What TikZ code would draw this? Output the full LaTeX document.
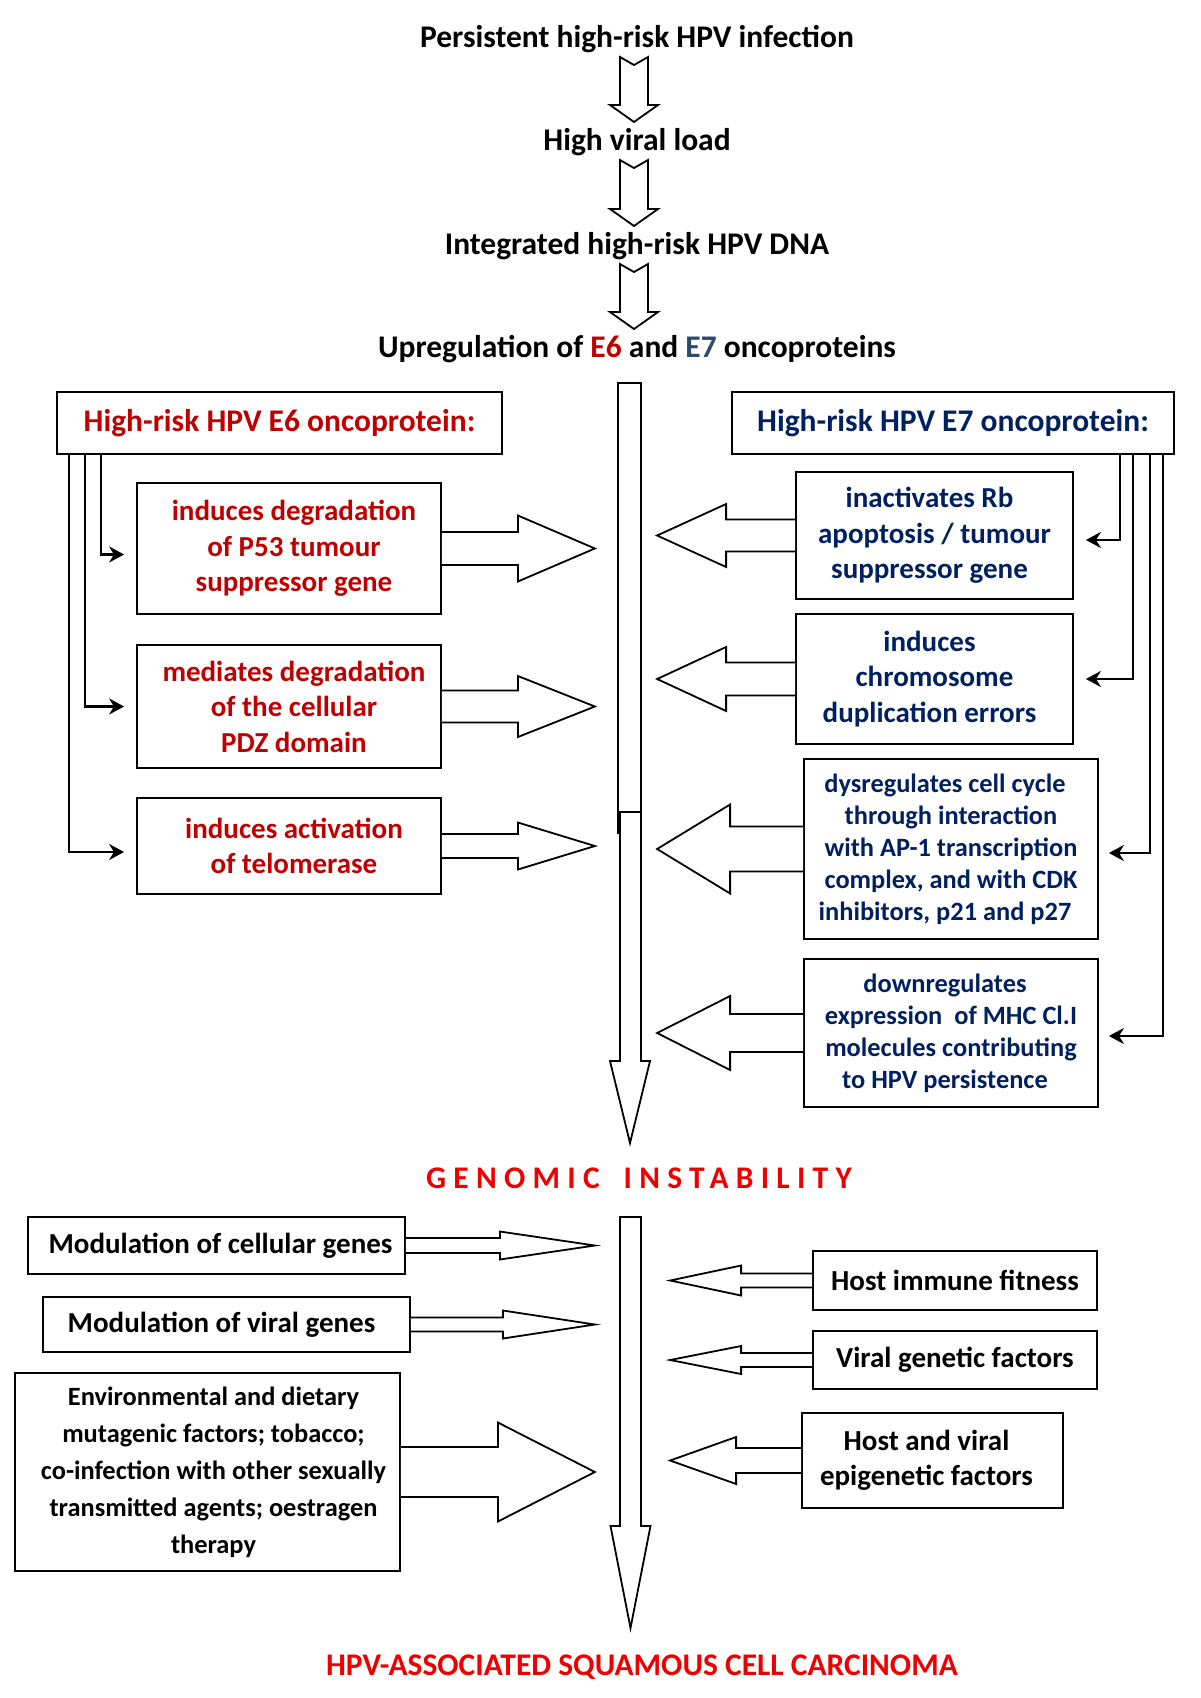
\documentclass[tikz,border=0pt]{standalone}
\usepackage{fontspec}
\setmainfont{Carlito}
\usetikzlibrary{calc,arrows.meta}
\definecolor{esixred}{HTML}{C00000}
\definecolor{esevenblue}{HTML}{002060}
\definecolor{esevengrey}{HTML}{2E4A6E}
\definecolor{alertred}{HTML}{EE0000}

\newcommand\blockarrow[5]{%
  \draw[hollow] (#1) ++(0,#4) -- ++({(#2)-(#3)},0) -- ++(0,{(#5)-(#4)}) -- ++({#3},{-(#5)})
    -- ++({-(#3)},{-(#5)}) -- ++(0,{(#5)-(#4)}) -- ++({(#3)-(#2)},0);}
\newcommand\notchdown[2]{%
  \draw[hollow] let \p1=(#1.base), \p2=(#2.base) in
    (\x1-17pt,\y1-10pt) -- (\x1-3pt,\y1-18pt) -- (\x1+11pt,\y1-10pt) -- (\x1+11pt,\y2+45pt)
    -- (\x1+21pt,\y2+45pt) -- (\x1-3pt,\y2+28pt) -- (\x1-27pt,\y2+45pt) -- (\x1-17pt,\y2+45pt) -- cycle;}

\begin{document}
\begin{tikzpicture}[x=1pt,y=1pt]
  \tikzstyle{title} = [font=\bfseries\fontsize{31.5}{38}\selectfont, inner sep=0pt, anchor=base]
  \tikzstyle{box} = [draw, line width=1.8pt, align=center, inner sep=0pt,
                     font=\bfseries\fontsize{29}{35.5}\selectfont]
  \tikzstyle{header} = [font=\bfseries\fontsize{31.5}{38}\selectfont]
  \tikzstyle{small} = [font=\bfseries\fontsize{26.4}{32}\selectfont]
  \tikzstyle{hollow} = [draw, line width=1.8pt, fill=white, line join=miter]
  \tikzstyle{link} = [line width=2.2pt, -{Stealth[length=15pt,width=16pt]}]

\useasboundingbox (0,0) rectangle (1200,-1698);

\node[title] (inf) at (637,-47) {Persistent high-risk HPV infection};
\node[title] (load) at (637,-150) {High viral load};
\node[title] (dna) at (637,-254) {Integrated high-risk HPV DNA};
\node[title] (up) at (637,-357) {Upregulation of \textcolor{esixred}{E6} and \textcolor{esevengrey}{E7} oncoproteins};
\notchdown{inf}{load}
\notchdown{load}{dna}
\notchdown{dna}{up}

\coordinate (spine) at (629.5,-383);
\draw[hollow] (spine) ++(-11.5,0) rectangle ++(23,-450);
\draw[hollow] (spine) ++(-9.5,-429) -- ++(21,0) -- ++(0,-249) -- ++(9,0) -- ++(-20,-82) -- ++(-20,82) -- ++(10,0) -- cycle;

\node[box, header, text=esixred, minimum width=445pt, minimum height=62pt] (e6) at (279.5,-423) {High-risk HPV E6 oncoprotein:};
\node[box, text=esixred, minimum width=304pt, minimum height=131pt] (p53) at (289,-548.5) {\hspace*{10pt}induces degradation\\\hspace*{10pt}of P53 tumour\\\hspace*{10pt}suppressor gene};
\node[box, text=esixred, minimum width=304pt, minimum height=123pt] (pdz) at (289,-706.5) {\hspace*{10pt}mediates degradation\\\hspace*{10pt}of the cellular\\\hspace*{10pt}PDZ domain};
\node[box, text=esixred, minimum width=304pt, minimum height=96pt] (telo) at (289,-846) {\hspace*{10pt}induces activation\\\hspace*{10pt}of telomerase};

\node[box, header, text=esevenblue, minimum width=442pt, minimum height=62pt] (e7) at (953,-423) {High-risk HPV E7 oncoprotein:};
\node[box, text=esevenblue, minimum width=277pt, minimum height=127pt] (rb) at (934.5,-535.5) {inactivates Rb\hspace*{10pt}\\apoptosis / tumour\hspace*{10pt}\\suppressor gene\hspace*{10pt}};
\node[box, text=esevenblue, minimum width=277pt, minimum height=130pt] (chrom) at (934.5,-679) {induces\hspace*{10pt}\\chromosome\hspace*{10pt}\\duplication errors\hspace*{10pt}};
\node[box, small, text=esevenblue, minimum width=294pt, minimum height=180pt] (cycle) at (951,-849) {dysregulates cell cycle\hspace*{12pt}\\through interaction\hspace*{12pt}\\with AP-1 transcription\hspace*{12pt}\\complex, and with CDK\hspace*{12pt}\\inhibitors, p21 and p27\hspace*{12pt}};
\node[box, small, text=esevenblue, minimum width=294pt, minimum height=148pt] (mhc) at (951,-1033) {downregulates\hspace*{12pt}\\expression~ of MHC Cl.I\hspace*{12pt}\\molecules contributing\hspace*{12pt}\\to HPV persistence\hspace*{12pt}};

\blockarrow{p53.east}{153}{77}{16.5}{33}
\blockarrow{pdz.east}{153}{77}{16}{30.5}
\blockarrow{telo.east}{153}{77}{12}{23.5}
\blockarrow{rb.west}{-138}{-69}{16}{31.5}
\blockarrow{chrom.west}{-138}{-69}{16.5}{32}
\blockarrow{cycle.west}{-146}{-73}{22.5}{44.5}
\blockarrow{mhc.west}{-146}{-73}{19}{37}

\draw[link, shorten >=12pt] ([xshift=45pt]e6.south west) |- ([yshift=-6pt]p53.west);
\draw[link, shorten >=12pt] ([xshift=29pt]e6.south west) |- (pdz.west);
\draw[link, shorten >=12pt] ([xshift=13pt]e6.south west) |- ([yshift=-6pt]telo.west);
\draw[link, shorten >=12pt] ([xshift=-55pt]e7.south east) |- ([yshift=-4.5pt]rb.east);
\draw[link, shorten >=12pt] ([xshift=-42pt]e7.south east) |- (chrom.east);
\draw[link, shorten >=10pt] ([xshift=-25pt]e7.south east) |- ([yshift=-4pt]cycle.east);
\draw[link, shorten >=10pt] ([xshift=-12pt]e7.south east) |- ([yshift=-3pt]mhc.east);

\node[title, text=alertred, font=\bfseries\fontsize{31.5}{38}\selectfont\addfontfeature{LetterSpace=23}] (gi) at (639,-1188) {GENOMIC\hspace{24pt}INSTABILITY};

\coordinate (spine2) at (630.5,-1217);
\draw[hollow] (spine2) ++(-10.5,0) -- ++(21,0) -- ++(0,-309) -- ++(9.5,0) -- ++(-20,-102) -- ++(-20,102) -- ++(9.5,0) -- cycle;

\node[box, minimum width=377pt, minimum height=57pt] (cell) at (216.5,-1245.5) {\hspace*{8pt}Modulation of cellular genes};
\node[box, minimum width=367pt, minimum height=55pt] (viral) at (226.5,-1324.5) {Modulation of viral genes\hspace*{10pt}};
\node[box, font=\bfseries\fontsize{26.4}{37}\selectfont, minimum width=385pt, minimum height=198pt] (env) at (207.5,-1472) {\hspace*{12pt}Environmental and dietary\\\hspace*{12pt}mutagenic factors; tobacco;\\\hspace*{12pt}co-infection with other sexually\\\hspace*{12pt}transmitted agents; oestragen\\\hspace*{12pt}therapy};
\node[box, minimum width=284pt, minimum height=59pt] (immune) at (955,-1280.5) {Host immune fitness};
\node[box, minimum width=284pt, minimum height=58pt] (genetic) at (955,-1360) {Viral genetic factors};
\node[box, minimum width=261pt, minimum height=95pt] (epi) at (932.5,-1460.5) {Host and viral\hspace*{12pt}\\epigenetic factors\hspace*{12pt}};

\blockarrow{cell.east}{189}{95}{7.5}{14}
\blockarrow{viral.east}{184}{92}{7}{14}
\blockarrow{env.east}{194}{97}{25}{49.5}
\blockarrow{immune.west}{-142}{-71}{7}{15}
\blockarrow{genetic.west}{-142}{-71}{7}{14}
\blockarrow{epi.west}{-131}{-66}{12.5}{23.5}

\node[title, text=alertred] (scc) at (642,-1675) {HPV-ASSOCIATED SQUAMOUS CELL CARCINOMA};
\end{tikzpicture}
\end{document}
